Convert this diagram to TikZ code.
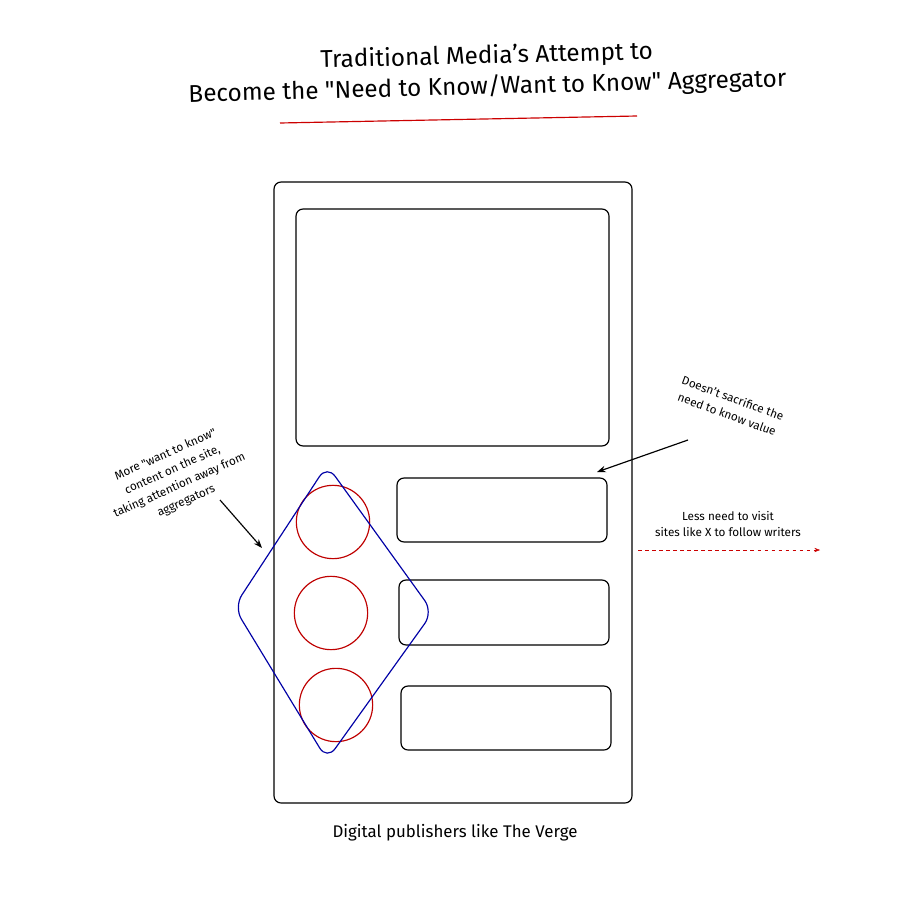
\documentclass[tikz,border=0pt]{standalone}
\usepackage{fontspec}
\setmainfont{Fira Sans}
\usetikzlibrary{arrows.meta,shapes.geometric}
\newcommand{\qq}{\textquotedbl}
\begin{document}
\begin{tikzpicture}[x=0.03cm,y=-0.03cm,>=Stealth]
 \tikzstyle{box} = [draw,line width=1pt,rounded corners=6pt]
 \tikzstyle{dot} = [draw=red!75!black,line width=1pt,circle,minimum size=2.2cm,inner sep=0]
 \tikzstyle{note} = [align=center,font=\normalsize\linespread{1.2}\selectfont]
 \useasboundingbox[fill=white] (0,0) rectangle (920,902);

% Title
 \node[font=\huge\linespread{1.05}\selectfont,align=center,rotate=1.5] (title) at (487,72)
   {Traditional Media's Attempt to\\Become the \qq Need to Know/Want to Know\qq{} Aggregator};
 \draw[red!80!black,line width=1pt] (280,123) -- (637,116);

% Phone frame
 \draw[box] (274,182) rectangle (632,803);
 \draw[box] (296,209) rectangle (609,446);
 \draw[box] (397,478) rectangle (607,542);
 \draw[box] (399,580) rectangle (609,645);
 \draw[box] (401,686) rectangle (611,750);

% Circles
 \node[dot] (c1) at (333,522) {};
 \node[dot] (c2) at (331,613) {};
 \node[dot] (c3) at (336,705) {};

% Diamond
 \draw[blue!65!black,line width=1pt,rounded corners=12pt] (327,465) -- (433,612) -- (327,760) -- (234,607) -- cycle;

% Notes
 \node[note,rotate=24] (want) at (176,478)
   {More \qq want to know\qq\\content on the site,\\taking attention away from\\aggregators};
 \coordinate (wantend) at (262,548);
 \draw[->,line width=1pt] (220,500) -- (wantend);

 \node[note,rotate=-20] (need) at (730,406) {Doesn't sacrifice the\\need to know value};
 \coordinate (needend) at (597,472);
 \draw[->,line width=1pt] (688,440) -- (needend);

 \node[note] (less) at (728,524) {Less need to visit\\sites like X to follow writers};
 \coordinate (lessA) at (638,550);
 \coordinate (lessB) at (820,550);
 \draw[->,red!80!black,dashed] (lessA) -- (lessB);

 \node[font=\Large] (caption) at (455,833) {Digital publishers like The Verge};
\end{tikzpicture}
\end{document}
